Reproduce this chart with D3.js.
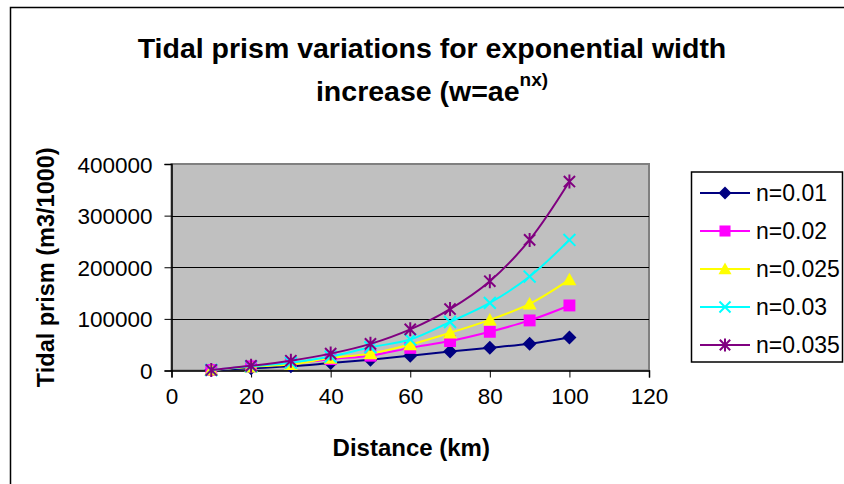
<!DOCTYPE html>
<html>
<head>
<meta charset="utf-8">
<script src="https://cdn.jsdelivr.net/npm/d3@7"></script>
<style>
  body { margin: 0; background: #fff; }
  svg { display: block; font-family: Arial, "Liberation Sans", sans-serif; }
</style>
</head>
<body>
<div id="chart"></div>
<script>
// data
const distance = [10, 20, 30, 40, 50, 60, 70, 80, 90, 100];
const n001  = [1000, 4500, 8000, 14400, 20900, 28800, 37000, 44000, 52000, 64000];
const n002  = [1000, 8000, 13000, 22000, 28700, 43800, 57000, 75000, 97000, 126000];
const n0025 = [1000, 7000, 12000, 24000, 32700, 50300, 73000, 98000, 129000, 176000];
const n003  = [1000, 8000, 15000, 27000, 45000, 60000, 94000, 131000, 182000, 253000];
const n0035 = [1000, 9000, 19000, 32700, 51600, 79700, 119000, 173000, 253000, 366000];
const seriesNames = ['n=0.01', 'n=0.02', 'n=0.025', 'n=0.03', 'n=0.035'];
const xTicks = [0, 20, 40, 60, 80, 100, 120];
const yTicks = [0, 100000, 200000, 300000, 400000];

const colors = ['#000080', '#ff00ff', '#ffff00', '#00ffff', '#800080'];
const markers = ['diamond', 'square', 'triangle', 'x', 'star'];
const allValues = [n001, n002, n0025, n003, n0035];

const width = 844, height = 484;
const plot = {left: 171.5, right: 649, top: 164, bottom: 370.5};

let svg = d3.select('#chart').append('svg')
    .attr('width', width)
    .attr('height', height);

// outer chart border
svg.append('rect')
    .attr('x', 10.5).attr('y', 7.5)
    .attr('width', 900).attr('height', 600)
    .attr('fill', 'none')
    .attr('stroke', '#000')
    .attr('stroke-width', 1.5);

let xScale = d3.scaleLinear().domain([0, 120]).range([plot.left, plot.right]);
let yScale = d3.scaleLinear().domain([0, 400000]).range([plot.bottom, plot.top]);

// plot area
svg.append('rect')
    .attr('x', plot.left).attr('y', plot.top)
    .attr('width', plot.right - plot.left)
    .attr('height', plot.bottom - plot.top)
    .attr('fill', '#c0c0c0')
    .attr('stroke', '#808080')
    .attr('stroke-width', 2);

// gridlines
svg.append('g')
    .selectAll('line')
    .data(yTicks.slice(1, 4))
    .join('line')
    .attr('x1', plot.left).attr('x2', plot.right)
    .attr('y1', d => Math.round(yScale(d)) + 0.5)
    .attr('y2', d => Math.round(yScale(d)) + 0.5)
    .attr('stroke', '#000');

// axes
let xAxis = d3.axisBottom(xScale).tickValues(xTicks).tickSize(7).tickPadding(11);
let yAxis = d3.axisLeft(yScale).tickValues(yTicks).tickSize(7).tickPadding(12)
    .tickFormat(d3.format('d'));

let gx = svg.append('g')
    .attr('transform', `translate(0,${plot.bottom})`)
    .call(xAxis);
let gy = svg.append('g')
    .attr('transform', `translate(${plot.left},0)`)
    .call(yAxis);

[gx, gy].forEach(g => {
    g.select('.domain').attr('stroke', '#000').attr('stroke-width', 1.5);
    g.selectAll('.tick line').attr('stroke', '#000');
    g.selectAll('.tick text')
        .attr('fill', '#000')
        .style('font-size', '22.5px')
        .style('font-family', 'Arial, "Liberation Sans", sans-serif');
});
gy.selectAll('.tick text').attr('dy', '0.36em');

// marker shapes
function drawMarker(g, type, color, size) {
    let s = size / 2;
    if (type == 'diamond') {
        g.append('path').attr('d', `M0,${-s}L${s},0L0,${s}L${-s},0Z`).attr('fill', color);
    } else if (type == 'square') {
        g.append('rect').attr('x', -s * 0.85).attr('y', -s * 0.85)
            .attr('width', s * 1.7).attr('height', s * 1.7).attr('fill', color);
    } else if (type == 'triangle') {
        g.append('path').attr('d', `M0,${-s}L${s},${s * 0.8}L${-s},${s * 0.8}Z`).attr('fill', color);
    } else if (type == 'x') {
        let k = s * 0.85;
        g.append('path').attr('d', `M${-k},${-k}L${k},${k}M${-k},${k}L${k},${-k}`)
            .attr('stroke', color).attr('stroke-width', 2).attr('fill', 'none');
    } else {
        let k = s * 0.8;
        g.append('path').attr('d', `M${-k},${-k}L${k},${k}M${-k},${k}L${k},${-k}M0,${-s}L0,${s}`)
            .attr('stroke', color).attr('stroke-width', 2).attr('fill', 'none');
    }
}

let line = d3.line()
    .x(d => xScale(d.x))
    .y(d => yScale(d.y))
    .curve(d3.curveCatmullRom.alpha(0.5));

allValues.forEach((vals, i) => {
    let data = distance.map((x, j) => ({x: x, y: vals[j]}));
    svg.append('path')
        .attr('d', line(data))
        .attr('fill', 'none')
        .attr('stroke', colors[i])
        .attr('stroke-width', 2);
    let pts = svg.append('g');
    data.forEach(d => {
        let m = pts.append('g').attr('transform', `translate(${xScale(d.x)},${yScale(d.y)})`);
        drawMarker(m, markers[i], colors[i], 14);
    });
});

// title
svg.append('text')
    .attr('x', 432).attr('y', 58)
    .attr('text-anchor', 'middle')
    .style('font-size', '28.5px').style('font-weight', 'bold')
    .text('Tidal prism variations for exponential width');
let t2 = svg.append('text')
    .attr('x', 432).attr('y', 101)
    .attr('text-anchor', 'middle')
    .style('font-size', '28.5px').style('font-weight', 'bold');
t2.append('tspan').text('increase (w=ae');
t2.append('tspan').attr('dy', -15).style('font-size', '19px').text('nx)');

// axis titles
svg.append('text')
    .attr('x', (plot.left + plot.right) / 2 + 1).attr('y', 456)
    .attr('text-anchor', 'middle')
    .style('font-size', '24px').style('font-weight', 'bold')
    .text('Distance (km)');
svg.append('text')
    .attr('transform', `translate(54,${(plot.top + plot.bottom) / 2}) rotate(-90)`)
    .attr('text-anchor', 'middle')
    .style('font-size', '23.5px').style('font-weight', 'bold')
    .text('Tidal prism (m3/1000)');

// legend
let legend = svg.append('g');
legend.append('rect')
    .attr('x', 691.5).attr('y', 172)
    .attr('width', 151).attr('height', 190)
    .attr('fill', '#fff')
    .attr('stroke', '#000')
    .attr('stroke-width', 1.5);
seriesNames.forEach((name, i) => {
    let y = 193 + i * 38;
    legend.append('line')
        .attr('x1', 700).attr('x2', 750)
        .attr('y1', y).attr('y2', y)
        .attr('stroke', colors[i]).attr('stroke-width', 2);
    let m = legend.append('g').attr('transform', `translate(725,${y})`);
    drawMarker(m, markers[i], colors[i], 13);
    legend.append('text')
        .attr('x', 756).attr('y', y)
        .attr('dy', '0.36em')
        .style('font-size', '23px')
        .text(name);
});
</script>
</body>
</html>
